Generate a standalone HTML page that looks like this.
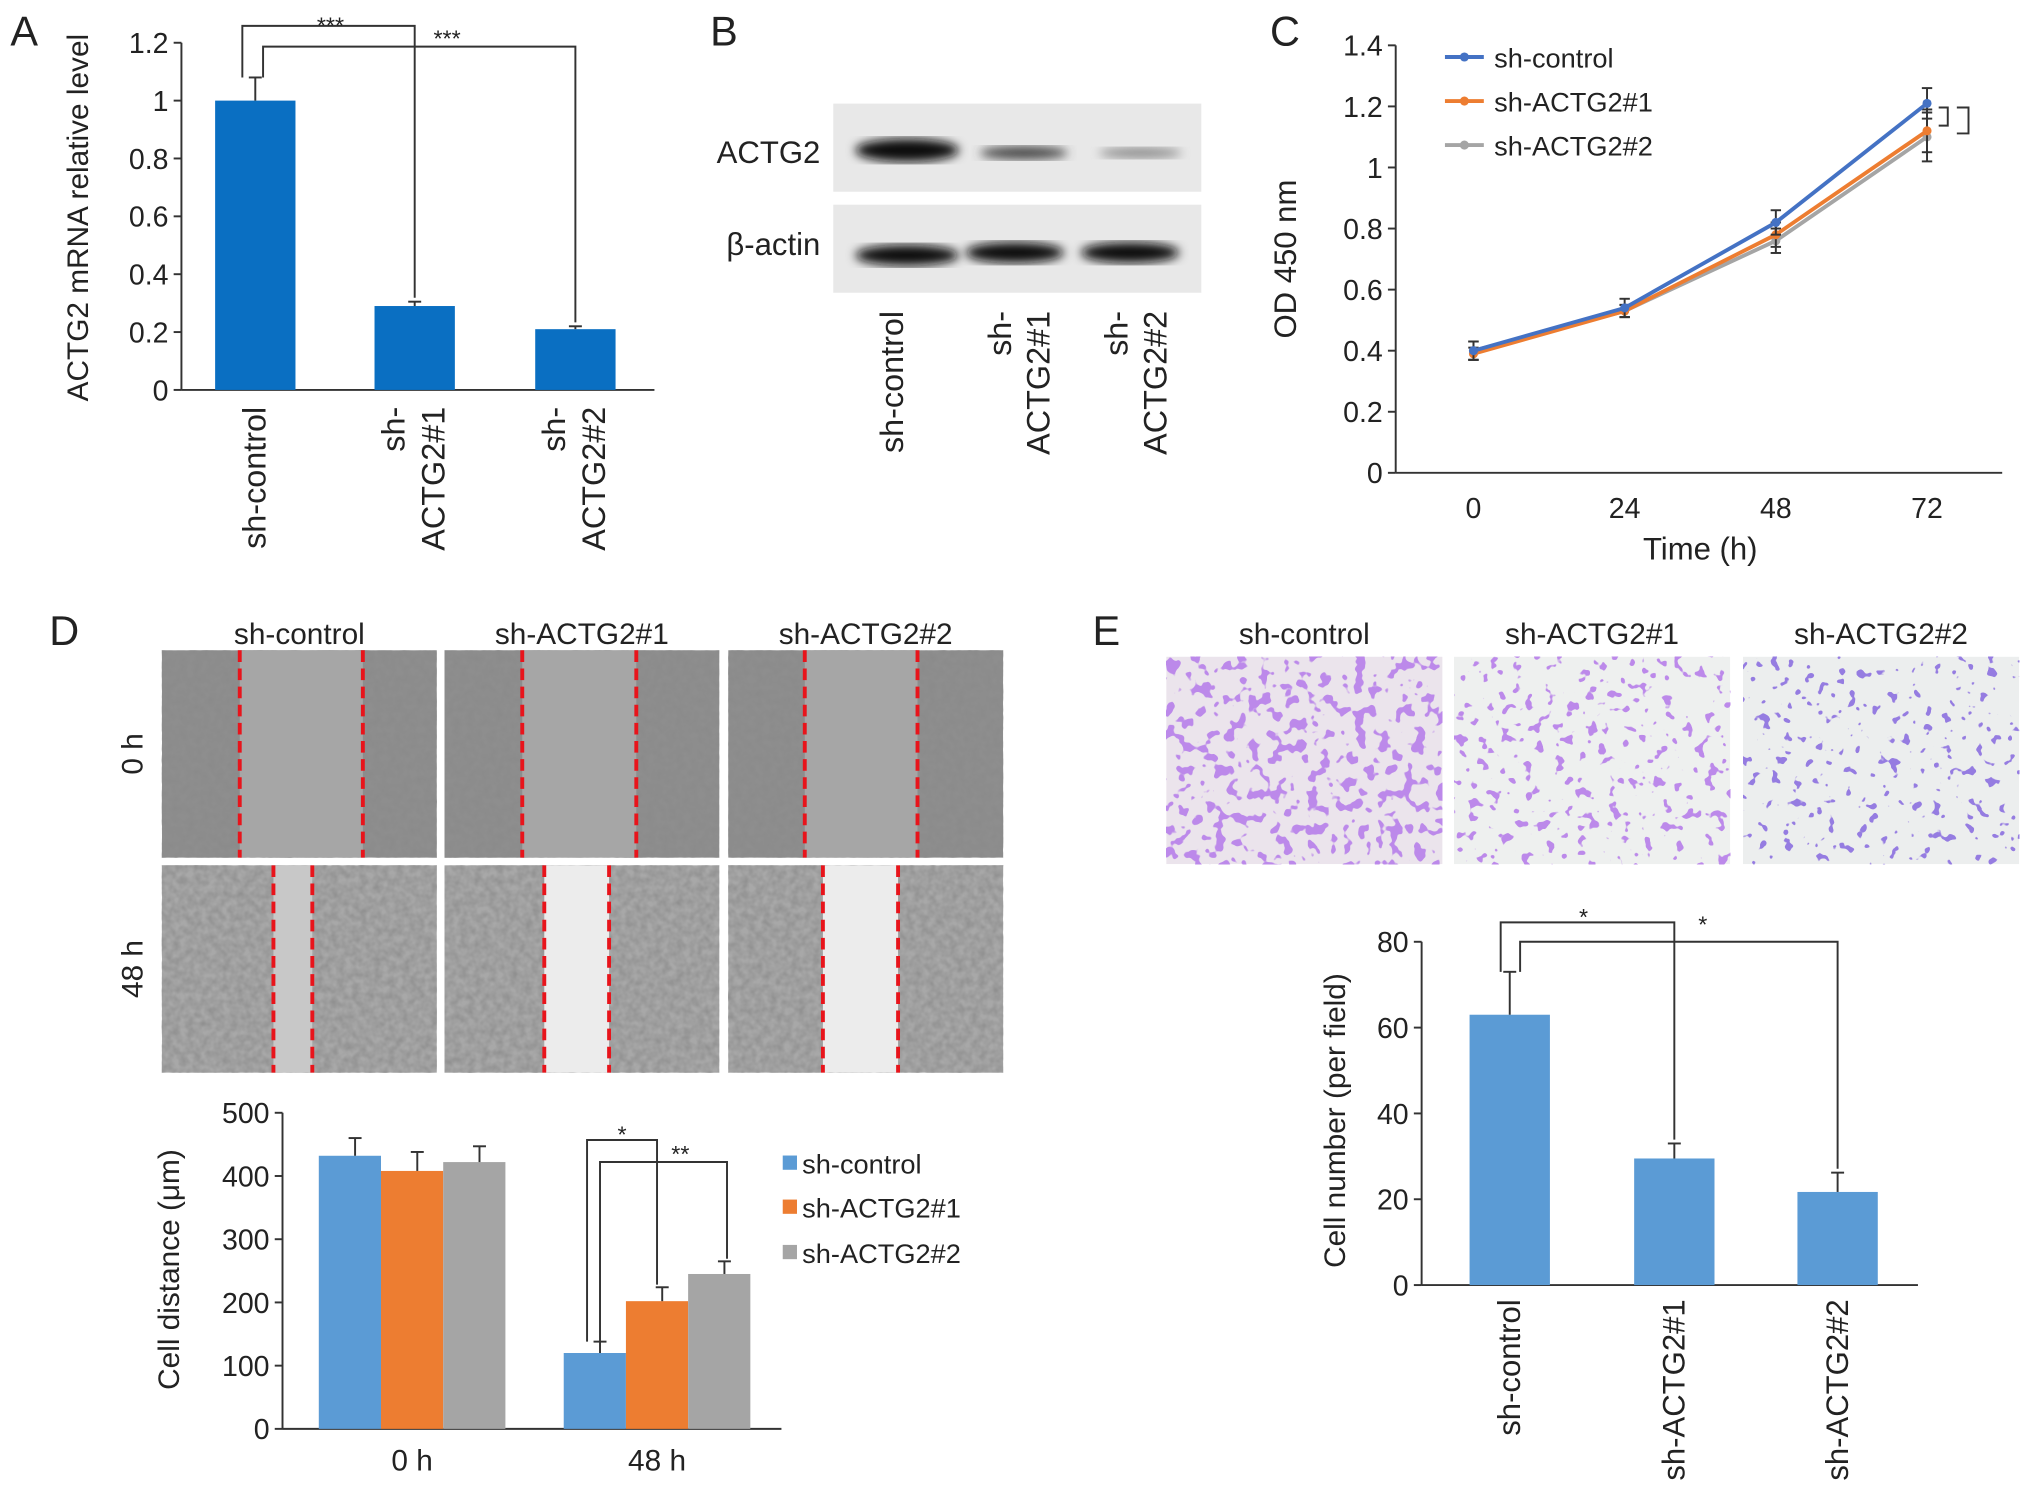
<!DOCTYPE html>
<html><head><meta charset="utf-8"><style>
html,body{margin:0;padding:0;background:#fff}
svg{display:block;font-family:"Liberation Sans",Arial,sans-serif}
</style></head><body>
<svg id="fig" width="2032" height="1504" viewBox="0 0 1568 1161" preserveAspectRatio="none" xmlns="http://www.w3.org/2000/svg">
<defs>
<filter id="grain" x="0" y="0" width="100%" height="100%">
<feTurbulence type="fractalNoise" baseFrequency="0.18" numOctaves="2" seed="3"/>
<feColorMatrix type="matrix" values="0 0 0 0 0.25  0 0 0 0 0.25  0 0 0 0 0.25  0 0 0 1.2 -0.3"/>
</filter>
<filter id="dots" x="0" y="0" width="100%" height="100%">
<feTurbulence type="fractalNoise" baseFrequency="0.11" numOctaves="2" seed="7"/>
<feColorMatrix type="matrix" values="0 0 0 0 0.5  0 0 0 0 0.25  0 0 0 0 0.82  0 0 0 -22 9.4"/>
</filter>
<filter id="dots2" x="0" y="0" width="100%" height="100%">
<feTurbulence type="fractalNoise" baseFrequency="0.12" numOctaves="2" seed="11"/>
<feColorMatrix type="matrix" values="0 0 0 0 0.5  0 0 0 0 0.25  0 0 0 0 0.82  0 0 0 -25 9.3"/>
</filter>
<filter id="dots3" x="0" y="0" width="100%" height="100%">
<feTurbulence type="fractalNoise" baseFrequency="0.12" numOctaves="2" seed="19"/>
<feColorMatrix type="matrix" values="0 0 0 0 0.3  0 0 0 0 0.2  0 0 0 0 0.75  0 0 0 -28 9.6"/>
</filter>
<filter id="blur"><feGaussianBlur stdDeviation="4"/></filter>
</defs>
<g id="root"></g>
</svg>
<script>
// ---- Panel A data ----
const aCats = ["sh-control", "sh-ACTG2#1", "sh-ACTG2#2"];
const aVals = [1.0, 0.29, 0.21];
const aErr = [0.08, 0.015, 0.01];
const aTicks = [0, 0.2, 0.4, 0.6, 0.8, 1, 1.2];
// ---- Panel C data ----
const cTimes = [0, 24, 48, 72];
const cControl = [0.40, 0.54, 0.82, 1.21];
const cSh1 = [0.39, 0.53, 0.78, 1.12];
const cSh2 = [0.40, 0.53, 0.76, 1.10];
const cErrControl = [0.03, 0.03, 0.04, 0.05];
const cErrSh1 = [0.02, 0.02, 0.04, 0.07];
const cErrSh2 = [0.03, 0.02, 0.04, 0.08];
const cTicks = [0, 0.2, 0.4, 0.6, 0.8, 1, 1.2, 1.4];
// ---- Panel D data ----
const dGroups = ["0 h", "48 h"];
const dControl = [432, 120];
const dSh1 = [408, 202];
const dSh2 = [422, 245];
const dErrControl = [28, 18];
const dErrSh1 = [30, 22];
const dErrSh2 = [25, 20];
const dTicks = [0, 100, 200, 300, 400, 500];
// ---- Panel E data ----
const eCats = ["sh-control", "sh-ACTG2#1", "sh-ACTG2#2"];
const eVals = [63, 29.5, 21.7];
const eErr = [10, 3.5, 4.5];
const eTicks = [0, 20, 40, 60, 80];

const NS = "http://www.w3.org/2000/svg";
const root = document.getElementById("root");
function el(tag, attrs, parent, text) {
  const e = document.createElementNS(NS, tag);
  for (const k in attrs) e.setAttribute(k, attrs[k]);
  if (text !== undefined) e.textContent = text;
  (parent || root).appendChild(e);
  return e;
}
function grp(name) {
  const g = el("g", {});
  
  
  return g;
}
function txt(parent, x, y, s, size, name, extra) {
  const a = Object.assign({x: x, y: y, "font-size": size, fill: "#222"}, extra || {});
  const t = el("text", a, parent, s);
  
  
  return t;
}
function line(p, x1, y1, x2, y2, w, c) {
  return el("line", {x1, y1, x2, y2, stroke: c || "#333", "stroke-width": w || 1.5}, p);
}
function errbar(p, x, yTop, yBot, cap) {
  line(p, x, yTop, x, yBot, 1.5, "#333");
  line(p, x - cap, yTop, x + cap, yTop, 1.5, "#333");
}

// Panel letters
[["A", 8, 35], ["B", 548, 35], ["C", 980, 35], ["D", 38, 498], ["E", 843, 498]].forEach(l => {
  txt(root, l[1], l[2], l[0], 32, "panel-label-" + l[0].toLowerCase());
});

// ===== Panel A =====
(function () {
  const g = grp("panel-a-bar-chart");
  const x0 = 140, y0 = 301, yTop = 33, x1 = 505;
  const y = v => y0 - (v / 1.2) * (y0 - yTop);
  const cx = [197, 320, 444], bw = 62;
  line(g, x0, yTop, x0, y0); line(g, x0, y0, x1, y0);
  aTicks.forEach(t => {
    line(g, x0 - 6, y(t), x0, y(t));
    txt(g, x0 - 10, y(t) + 8, String(t), 22, "y-tick-label", {"text-anchor": "end"});
  });
  aVals.forEach((v, i) => {
    const r = el("rect", {x: cx[i] - bw / 2, y: y(v), width: bw, height: y0 - y(v), fill: "#0a6fc2"}, g);
    
    
    errbar(g, cx[i], y(v + aErr[i]), y(v), 5);
  });
  el("polyline", {points: `187,${y(aVals[0] + aErr[0])} 187,20 320,20 320,${y(aVals[1] + aErr[1]) - 3}`, fill: "none", stroke: "#333", "stroke-width": 1.5}, g);
  el("polyline", {points: `203,${y(aVals[0] + aErr[0])} 203,36 444,36 444,${y(aVals[2] + aErr[2]) - 3}`, fill: "none", stroke: "#333", "stroke-width": 1.5}, g);
  txt(g, 255, 26, "***", 18, "significance-a1", {"text-anchor": "middle"});
  txt(g, 345, 36, "***", 18, "significance-a2", {"text-anchor": "middle"});
  txt(g, 68, 168, "ACTG2 mRNA relative level", 23, "y-axis-title", {"text-anchor": "middle", transform: "rotate(-90 68 168)"});
  const labs = [["sh-control"], ["sh-", "ACTG2#1"], ["sh-", "ACTG2#2"]];
  labs.forEach((ls, i) => {
    ls.forEach((s, j) => {
      const xx = cx[i] + 8 + (j - (ls.length - 1)) * 31 + (ls.length - 1) * 15;
      txt(g, xx, 314, s, 25, "x-tick-label", {"text-anchor": "end", transform: `rotate(-90 ${xx} 314)`});
    });
  });
})();

// ===== Panel B (western blot) =====
(function () {
  const g = grp("panel-b-western-blot");
  el("rect", {x: 643, y: 80, width: 284, height: 68, fill: "#e8e8e8"}, g);
  el("rect", {x: 643, y: 158, width: 284, height: 68, fill: "#e8e8e8"}, g);
  const bands = [[700, 116, 40, 9, "#111"], [790, 118, 34, 5, "#444"], [880, 118, 32, 4, "#888"],
                 [700, 197, 40, 8, "#111"], [783, 195, 38, 8, "#111"], [872, 195, 38, 8, "#111"]];
  bands.forEach(b => el("ellipse", {cx: b[0], cy: b[1], rx: b[2], ry: b[3], fill: b[4], filter: "url(#blur)"}, g));
  txt(g, 633, 126, "ACTG2", 24, "blot-label-actg2", {"text-anchor": "end"});
  txt(g, 633, 197, "β-actin", 24, "blot-label-beta-actin", {"text-anchor": "end"});
  const labs = [[697, ["sh-control"]], [780, ["sh-", "ACTG2#1"]], [870, ["sh-", "ACTG2#2"]]];
  labs.forEach(l => l[1].forEach((s, j) => {
    const xx = l[0] + j * 30;
    txt(g, xx, 240, s, 25, "blot-lane-label", {"text-anchor": "end", transform: `rotate(-90 ${xx} 240)`});
  }));
})();

// ===== Panel C (line chart) =====
(function () {
  const g = grp("panel-c-line-chart");
  const x0 = 1077, y0 = 365, yTop = 35, x1 = 1545;
  const y = v => y0 - (v / 1.4) * (y0 - yTop);
  const x = t => 1137 + (t / 72) * (1487 - 1137);
  line(g, x0, yTop, x0, y0); line(g, x0, y0, x1, y0);
  cTicks.forEach(t => {
    line(g, x0 - 6, y(t), x0, y(t));
    txt(g, x0 - 10, y(t) + 8, String(t), 22, "y-tick-label", {"text-anchor": "end"});
  });
  cTimes.forEach(t => txt(g, x(t), 400, String(t), 22, "x-tick-label", {"text-anchor": "middle"}));
  txt(g, 1312, 432, "Time (h)", 24, "x-axis-title", {"text-anchor": "middle"});
  txt(g, 1000, 200, "OD 450 nm", 24, "y-axis-title", {"text-anchor": "middle", transform: "rotate(-90 1000 200)"});
  const series = [[cSh2, cErrSh2, "#a5a5a5", "sh-ACTG2#2"], [cSh1, cErrSh1, "#ed7d31", "sh-ACTG2#1"], [cControl, cErrControl, "#4472c4", "sh-control"]];
  series.forEach(s => {
    s[0].forEach((v, i) => errbar(g, x(cTimes[i]), y(v + s[1][i]), y(v - s[1][i]), 4));
    s[0].forEach((v, i) => line(g, x(cTimes[i]) - 4, y(v - s[1][i]), x(cTimes[i]) + 4, y(v - s[1][i])));
    const pl = el("polyline", {points: s[0].map((v, i) => x(cTimes[i]) + "," + y(v)).join(" "), fill: "none", stroke: s[2], "stroke-width": 3}, g);
    
    
    s[0].forEach((v, i) => el("circle", {cx: x(cTimes[i]), cy: y(v), r: 3.5, fill: s[2]}, g));
  });
  const leg = [["sh-control", "#4472c4", 44], ["sh-ACTG2#1", "#ed7d31", 78], ["sh-ACTG2#2", "#a5a5a5", 112]];
  leg.forEach(l => {
    const lg = grp("legend-entry");
    line(lg, 1115, l[2], 1145, l[2], 3, l[1]);
    el("circle", {cx: 1130, cy: l[2], r: 3.5, fill: l[1]}, lg);
    txt(lg, 1153, l[2] + 8, l[0], 21, "legend-text");
  });
  el("polyline", {points: "1496,83 1503,83 1503,97 1496,97", fill: "none", stroke: "#333", "stroke-width": 1.5}, g);
  el("polyline", {points: "1510,83 1519,83 1519,103 1510,103", fill: "none", stroke: "#333", "stroke-width": 1.5}, g);
})();

// ===== Panel D images =====
(function () {
  const g = grp("panel-d-wound-images");
  const xs = [125, 343, 562], w = 212;
  const gap0 = [[185, 280], [403, 491], [621, 708]];
  const gap48 = [[211, 241], [420, 470], [635, 693]];
  ["sh-control", "sh-ACTG2#1", "sh-ACTG2#2"].forEach((s, i) => txt(g, xs[i] + w / 2, 497, s, 23, "column-header", {"text-anchor": "middle"}));
  xs.forEach((x, i) => {
    el("rect", {x, y: 502, width: w, height: 160, fill: "#8e8e8e"}, g);
    el("rect", {x, y: 502, width: w, height: 160, filter: "url(#grain)"}, g);
    el("rect", {x: gap0[i][0], y: 502, width: gap0[i][1] - gap0[i][0], height: 160, fill: "#a6a6a6"}, g);
    el("rect", {x, y: 668, width: w, height: 160, fill: "#a8a8a8"}, g);
    el("rect", {x, y: 668, width: w, height: 160, filter: "url(#grain)"}, g);
    el("rect", {x: gap48[i][0], y: 668, width: gap48[i][1] - gap48[i][0], height: 160, fill: i === 0 ? "#c8c8c8" : "#ececec"}, g);
    [gap0[i][0], gap0[i][1]].forEach(xx => el("line", {x1: xx, y1: 502, x2: xx, y2: 662, stroke: "#e8141b", "stroke-width": 3, "stroke-dasharray": "9 5"}, g));
    [gap48[i][0], gap48[i][1]].forEach(xx => el("line", {x1: xx, y1: 668, x2: xx, y2: 828, stroke: "#e8141b", "stroke-width": 3, "stroke-dasharray": "9 5"}, g));
  });
  txt(g, 110, 582, "0 h", 23, "row-label-0h", {"text-anchor": "middle", transform: "rotate(-90 110 582)"});
  txt(g, 110, 748, "48 h", 23, "row-label-48h", {"text-anchor": "middle", transform: "rotate(-90 110 748)"});
})();

// ===== Panel D bar chart =====
(function () {
  const g = grp("panel-d-bar-chart");
  const x0 = 218, y0 = 1103, yTop = 859, x1 = 603;
  const y = v => y0 - (v / 500) * (y0 - yTop);
  const centers = [318, 507], bw = 48;
  line(g, x0, yTop, x0, y0); line(g, x0, y0, x1, y0);
  dTicks.forEach(t => {
    line(g, x0 - 6, y(t), x0, y(t));
    txt(g, x0 - 10, y(t) + 8, String(t), 22, "y-tick-label", {"text-anchor": "end"});
  });
  dGroups.forEach((s, i) => txt(g, centers[i], 1135, s, 23, "x-tick-label", {"text-anchor": "middle"}));
  txt(g, 138, 980, "Cell distance (μm)", 23, "y-axis-title", {"text-anchor": "middle", transform: "rotate(-90 138 980)"});
  const series = [[dControl, dErrControl, "#5b9bd5", "sh-control"], [dSh1, dErrSh1, "#ed7d31", "sh-ACTG2#1"], [dSh2, dErrSh2, "#a5a5a5", "sh-ACTG2#2"]];
  series.forEach((s, k) => s[0].forEach((v, i) => {
    const cx = centers[i] + (k - 1) * bw;
    const r = el("rect", {x: cx - bw / 2, y: y(v), width: bw, height: y0 - y(v), fill: s[2]}, g);
    
    
    errbar(g, cx + 4, y(v + s[1][i]), y(v), 5);
  }));
  const c0 = centers[1] - bw, c1 = centers[1], c2 = centers[1] + bw;
  el("polyline", {points: `${c0 - 6},${y(dControl[1] + dErrControl[1])} ${c0 - 6},880 ${c1},880 ${c1},${y(dSh1[1] + dErrSh1[1]) - 2}`, fill: "none", stroke: "#333", "stroke-width": 1.5}, g);
  el("polyline", {points: `${c0 + 4},${y(dControl[1] + dErrControl[1])} ${c0 + 4},897 ${c2 + 6},897 ${c2 + 6},${y(dSh2[1] + dErrSh2[1]) - 2}`, fill: "none", stroke: "#333", "stroke-width": 1.5}, g);
  txt(g, 480, 882, "*", 18, "significance-d1", {"text-anchor": "middle"});
  txt(g, 525, 897, "**", 18, "significance-d2", {"text-anchor": "middle"});
  [["sh-control", "#5b9bd5", 898], ["sh-ACTG2#1", "#ed7d31", 932], ["sh-ACTG2#2", "#a5a5a5", 967]].forEach(l => {
    const lg = grp("legend-entry");
    el("rect", {x: 604, y: l[2] - 6, width: 11, height: 11, fill: l[1]}, lg);
    txt(lg, 619, l[2] + 8, l[0], 21, "legend-text");
  });
})();

// ===== Panel E images =====
(function () {
  const g = grp("panel-e-transwell-images");
  const xs = [900, 1122, 1345], w = 213;
  ["sh-control", "sh-ACTG2#1", "sh-ACTG2#2"].forEach((s, i) => txt(g, xs[i] + w / 2, 497, s, 23, "column-header", {"text-anchor": "middle"}));
  const bgs = ["#ebe4ec", "#eef0ef", "#eceeee"];
  const fl = ["url(#dots)", "url(#dots2)", "url(#dots3)"];
  xs.forEach((x, i) => {
    el("rect", {x, y: 507, width: w, height: 160, fill: bgs[i]}, g);
    el("rect", {x, y: 507, width: w, height: 160, filter: fl[i]}, g);
  });
})();

// ===== Panel E bar chart =====
(function () {
  const g = grp("panel-e-bar-chart");
  const x0 = 1097, y0 = 992, yTop = 727, x1 = 1480;
  const y = v => y0 - (v / 80) * (y0 - yTop);
  const cx = [1165, 1292, 1418], bw = 62;
  line(g, x0, yTop, x0, y0); line(g, x0, y0, x1, y0);
  eTicks.forEach(t => {
    line(g, x0 - 6, y(t), x0, y(t));
    txt(g, x0 - 10, y(t) + 8, String(t), 22, "y-tick-label", {"text-anchor": "end"});
  });
  eVals.forEach((v, i) => {
    const r = el("rect", {x: cx[i] - bw / 2, y: y(v), width: bw, height: y0 - y(v), fill: "#5b9bd5"}, g);
    
    
    errbar(g, cx[i], y(v + eErr[i]), y(v), 5);
    txt(g, cx[i] + 8, 1003, eCats[i], 24, "x-tick-label", {"text-anchor": "end", transform: `rotate(-90 ${cx[i] + 8} 1003)`});
  });
  el("polyline", {points: `1158,${y(eVals[0] + eErr[0])} 1158,712 1292,712 1292,${y(eVals[1] + eErr[1]) - 3}`, fill: "none", stroke: "#333", "stroke-width": 1.5}, g);
  el("polyline", {points: `1173,${y(eVals[0] + eErr[0])} 1173,727 1418,727 1418,${y(eVals[2] + eErr[2]) - 3}`, fill: "none", stroke: "#333", "stroke-width": 1.5}, g);
  txt(g, 1222, 714, "*", 18, "significance-e1", {"text-anchor": "middle"});
  txt(g, 1314, 720, "*", 18, "significance-e2", {"text-anchor": "middle"});
  txt(g, 1038, 865, "Cell number (per field)", 23, "y-axis-title", {"text-anchor": "middle", transform: "rotate(-90 1038 865)"});
})();
</script>
</body></html>
